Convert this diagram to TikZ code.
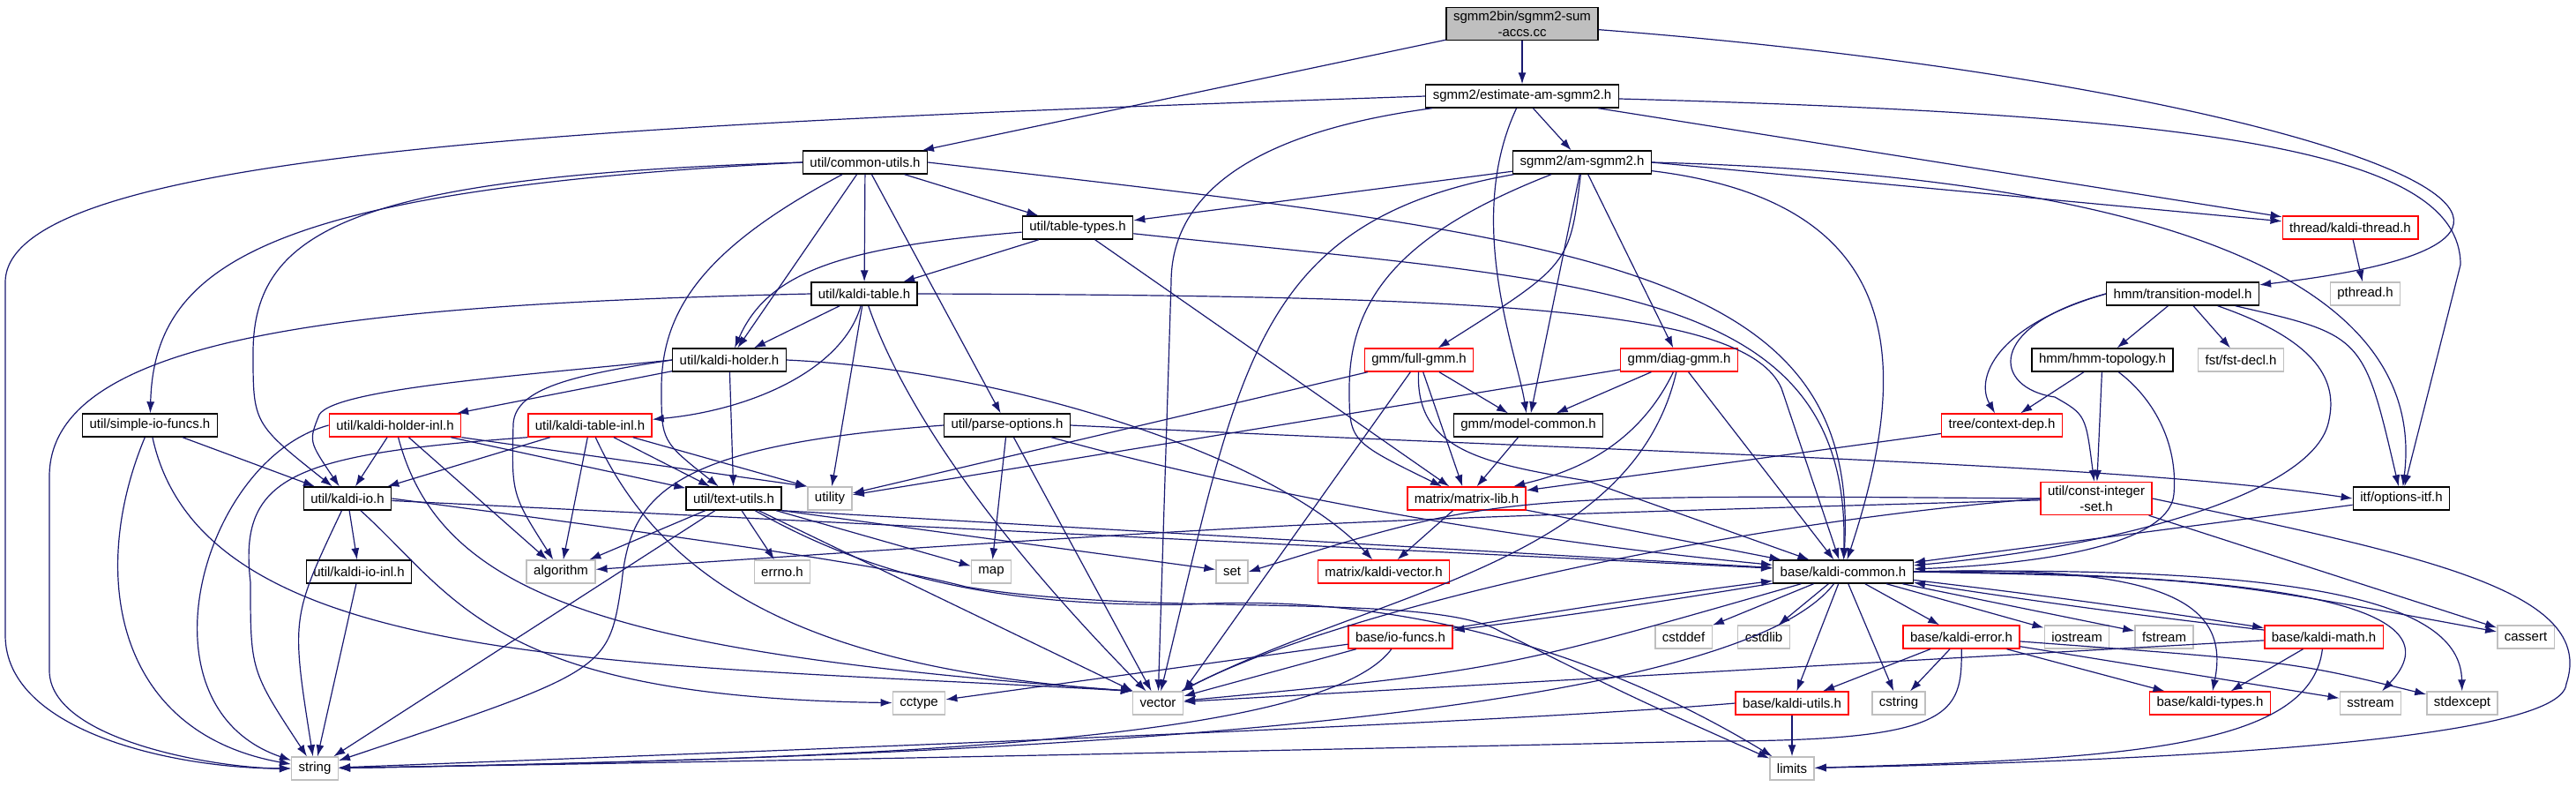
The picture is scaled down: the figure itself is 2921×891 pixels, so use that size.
\documentclass[tikz,border=0pt]{standalone}
\usepackage{fontspec}
\setmainfont{Liberation Sans}
\usetikzlibrary{arrows.meta}
\definecolor{edgeblue}{RGB}{25,25,112}
\definecolor{sysgray}{RGB}{191,191,191}

\begin{document}
\begin{tikzpicture}[
    x=0.5pt, y=-0.5pt,
    hdr/.style={rectangle, draw=black, fill=white, line width=0.7pt, font=\fontsize{7.5}{9}\selectfont, inner xsep=4pt, inner ysep=2pt, minimum height=13pt},
    trunc/.style={hdr, draw=red},
    sysinc/.style={hdr, draw=sysgray},
    rootfile/.style={hdr, fill=sysgray, align=center},
    arrow/.style={-{Latex[length=6.5pt,width=4.5pt]}, edgeblue, line width=0.6pt}
]
    \useasboundingbox (0,0) rectangle (2921,891);

    \node[rootfile] (src) at (1726,27) {sgmm2bin/sgmm2-sum\\-accs.cc};
    \node[hdr] (estam) at (1726,109) {sgmm2/estimate-am-sgmm2.h};
    \node[hdr] (common) at (981,184) {util/common-utils.h};
    \node[hdr] (amsgmm) at (1794,184) {sgmm2/am-sgmm2.h};
    \node[hdr] (tabletypes) at (1222,258) {util/table-types.h};
    \node[trunc] (thread) at (2665,258) {thread/kaldi-thread.h};
    \node[hdr] (kalditable) at (980,333) {util/kaldi-table.h};
    \node[hdr] (transmodel) at (2475,333) {hmm/transition-model.h};
    \node[sysinc] (pthread) at (2682,333) {pthread.h};
    \node[hdr] (holder) at (827,408) {util/kaldi-holder.h};
    \node[trunc] (fullgmm) at (1609,408) {gmm/full-gmm.h};
    \node[trunc] (diaggmm) at (1904,408) {gmm/diag-gmm.h};
    \node[hdr] (hmmtopo) at (2384,408) {hmm/hmm-topology.h};
    \node[sysinc] (fstdecl) at (2541,408) {fst/fst-decl.h};
    \node[hdr] (simpleio) at (170,482) {util/simple-io-funcs.h};
    \node[trunc] (holderinl) at (448,482) {util/kaldi-holder-inl.h};
    \node[trunc] (tableinl) at (669,482) {util/kaldi-table-inl.h};
    \node[hdr] (parseopt) at (1142,482) {util/parse-options.h};
    \node[hdr] (modelcommon) at (1733,482) {gmm/model-common.h};
    \node[trunc] (contextdep) at (2270,482) {tree/context-dep.h};
    \node[hdr] (kaldiio) at (394,565) {util/kaldi-io.h};
    \node[hdr] (textutils) at (832,565) {util/text-utils.h};
    \node[sysinc] (utility) at (941,565) {utility};
    \node[trunc] (matrixlib) at (1663,565) {matrix/matrix-lib.h};
    \node[trunc, align=center] (constint) at (2377,565) {util/const-integer\\-set.h};
    \node[hdr] (optionsitf) at (2723,565) {itf/options-itf.h};
    \node[hdr] (kaldiioinl) at (407,648) {util/kaldi-io-inl.h};
    \node[sysinc] (algorithm) at (636,648) {algorithm};
    \node[sysinc] (errno) at (887,648) {errno.h};
    \node[sysinc] (map) at (1124,648) {map};
    \node[sysinc] (set) at (1397,648) {set};
    \node[trunc] (kaldivector) at (1569,648) {matrix/kaldi-vector.h};
    \node[hdr] (kaldicommon) at (2090,648) {base/kaldi-common.h};
    \node[trunc] (iofuncs) at (1588,722) {base/io-funcs.h};
    \node[sysinc] (cstddef) at (1909,722) {cstddef};
    \node[sysinc] (cstdlib) at (2000,722) {cstdlib};
    \node[trunc] (kaldierror) at (2224,722) {base/kaldi-error.h};
    \node[sysinc] (iostream) at (2355,722) {iostream};
    \node[sysinc] (fstream) at (2454,722) {fstream};
    \node[trunc] (kaldimath) at (2635,722) {base/kaldi-math.h};
    \node[sysinc] (cassert) at (2864,722) {cassert};
    \node[sysinc] (cctype) at (1042,797) {cctype};
    \node[sysinc] (vector) at (1313,797) {vector};
    \node[trunc] (kaldiutils) at (2032,797) {base/kaldi-utils.h};
    \node[sysinc] (cstring) at (2153,797) {cstring};
    \node[trunc] (kalditypes) at (2506,797) {base/kaldi-types.h};
    \node[sysinc] (sstream) at (2688,797) {sstream};
    \node[sysinc] (stdexcept) at (2792,797) {stdexcept};
    \node[sysinc] (string) at (357,871) {string};
    \node[sysinc] (limits) at (2032,871) {limits};

    \draw[arrow] (src) -- (common);
    \draw[arrow] (src) -- (estam);
    \draw[arrow] (src) .. controls (2550,90) and (3100,260) .. (transmodel);

    \draw[arrow] (estam.west) .. controls (700,140) and (6,170) .. (6,320) -- (6,720) .. controls (6,830) and (200,871) .. (string.west);
    \draw[arrow] (estam) .. controls (1420,150) and (1328,220) .. (1328,320) -- (vector);
    \draw[arrow] (estam) -- (amsgmm);
    \draw[arrow] (estam) .. controls (1660,250) and (1720,400) .. (modelcommon);
    \draw[arrow] (estam) .. controls (2500,130) and (2790,170) .. (2790,300) -- (optionsitf);
    \draw[arrow] (estam) -- (thread);

    \draw[arrow] (amsgmm) -- (tabletypes);
    \draw[arrow] (amsgmm) .. controls (1420,250) and (1405,420) .. (vector);
    \draw[arrow] (amsgmm) .. controls (1600,260) and (1530,330) .. (1530,440) .. controls (1530,500) .. (matrixlib);
    \draw[arrow] (amsgmm) .. controls (1780,300) .. (fullgmm);
    \draw[arrow] (amsgmm) -- (modelcommon);
    \draw[arrow] (amsgmm) -- (diaggmm);
    \draw[arrow] (amsgmm) .. controls (2170,230) and (2165,420) .. (kaldicommon);
    \draw[arrow] (amsgmm.east) .. controls (2300,195) and (2760,270) .. (optionsitf);
    \draw[arrow] (amsgmm.east) -- (thread);

    \draw[arrow] (common) -- (parseopt);
    \draw[arrow] (common.west) .. controls (400,200) and (287,260) .. (287,400) .. controls (287,480) .. (kaldiio);
    \draw[arrow] (common.west) .. controls (300,215) and (175,300) .. (simpleio);
    \draw[arrow] (common) -- (holder);
    \draw[arrow] (common) -- (kalditable);
    \draw[arrow] (common) -- (tabletypes);
    \draw[arrow] (common) .. controls (800,280) and (750,350) .. (750,440) .. controls (750,500) .. (textutils);
    \draw[arrow] (common.east) .. controls (1800,270) and (2110,300) .. (kaldicommon);

    \draw[arrow] (tabletypes) -- (kalditable);
    \draw[arrow] (tabletypes) .. controls (950,280) and (870,310) .. (holder);
    \draw[arrow] (tabletypes) -- (matrixlib);
    \draw[arrow] (tabletypes) .. controls (1800,320) and (2100,320) .. (kaldicommon);

    \draw[arrow] (kalditable) -- (holder);
    \draw[arrow] (kalditable) .. controls (955,420) and (850,465) .. (tableinl);
    \draw[arrow] (kalditable) -- (utility);
    \draw[arrow] (kalditable) .. controls (1010,420) and (1080,560) .. (vector);
    \draw[arrow] (kalditable.east) .. controls (1700,335) and (1980,350) .. (2020,440) -- (kaldicommon);
    \draw[arrow] (kalditable.west) .. controls (400,345) and (56,380) .. (56,540) -- (56,760) .. controls (56,840) and (250,871) .. (string.west);

    \draw[arrow] (holder) -- (holderinl);
    \draw[arrow] (holder.west) .. controls (600,425) and (380,440) .. (362,470) .. controls (350,500) .. (kaldiio);
    \draw[arrow] (holder.west) .. controls (650,425) and (585,440) .. (582,480) .. controls (580,560) .. (algorithm);
    \draw[arrow] (holder) -- (textutils);
    \draw[arrow] (holder.east) .. controls (1150,420) and (1450,520) .. (kaldivector);

    \draw[arrow] (holderinl) -- (kaldiio);
    \draw[arrow] (holderinl) -- (textutils);
    \draw[arrow] (holderinl.south east) -- (utility.north west);
    \draw[arrow] (holderinl) -- (algorithm);
    \draw[arrow] (holderinl.west) .. controls (230,520) and (150,800) .. (string);
    \draw[arrow] (holderinl) .. controls (500,680) and (700,740) .. (vector.north west);

    \draw[arrow] (tableinl.south west) .. controls (330,515) and (270,540) .. (284,660) .. controls (284,760) .. (string);
    \draw[arrow] (tableinl) -- (kaldiio);
    \draw[arrow] (tableinl) -- (algorithm);
    \draw[arrow] (tableinl) .. controls (760,680) and (950,760) .. (vector.north west);
    \draw[arrow] (tableinl) -- (textutils);
    \draw[arrow] (tableinl) -- (utility.north west);

    \draw[arrow] (simpleio) -- (kaldiio);
    \draw[arrow] (simpleio) .. controls (100,650) and (130,830) .. (string);
    \draw[arrow] (simpleio) .. controls (230,760) and (700,750) .. (vector.north west);

    \draw[arrow] (kaldiio) -- (kaldiioinl);
    \draw[arrow] (kaldiio) .. controls (330,700) .. (string);
    \draw[arrow] (kaldiio) -- (kaldicommon);
    \draw[arrow] (kaldiio.east) .. controls (800,612) and (1000,640) .. (1095,665) .. controls (1300,700) and (1620,670) .. (1700,715) .. controls (1850,790) .. (limits);
    \draw[arrow] (kaldiio) .. controls (520,680) and (560,790) .. (cctype);
    \draw[arrow] (kaldiioinl) -- (string);

    \draw[arrow] (textutils) -- (algorithm);
    \draw[arrow] (textutils) -- (string);
    \draw[arrow] (textutils) -- (errno);
    \draw[arrow] (textutils) -- (map);
    \draw[arrow] (textutils.south east) -- (set);
    \draw[arrow] (textutils) -- (vector);
    \draw[arrow] (textutils.south east) -- (kaldicommon);
    \draw[arrow] (textutils) .. controls (1000,660) and (1150,688) .. (1350,685) .. controls (1620,670) and (1850,760) .. (limits);

    \draw[arrow] (parseopt) -- (map);
    \draw[arrow] (parseopt) -- (vector);
    \draw[arrow] (parseopt.west) .. controls (760,505) and (715,560) .. (705,660) .. controls (690,760) .. (string);
    \draw[arrow] (parseopt) .. controls (1500,580) and (1800,620) .. (kaldicommon);
    \draw[arrow] (parseopt.east) .. controls (1900,515) and (2400,525) .. (optionsitf.west);

    \draw[arrow] (fullgmm) -- (utility);
    \draw[arrow] (fullgmm) -- (vector.north east);
    \draw[arrow] (fullgmm) -- (matrixlib);
    \draw[arrow] (fullgmm) -- (modelcommon);
    \draw[arrow] (fullgmm) .. controls (1605,510) and (1680,525) .. (1800,545) -- (kaldicommon);
    \draw[arrow] (diaggmm) -- (utility);
    \draw[arrow] (diaggmm) -- (modelcommon);
    \draw[arrow] (diaggmm) .. controls (1850,520) and (1760,540) .. (matrixlib);
    \draw[arrow] (diaggmm) .. controls (1850,640) and (1560,670) .. (vector);
    \draw[arrow] (diaggmm) -- (kaldicommon);
    \draw[arrow] (modelcommon) -- (matrixlib);
    \draw[arrow] (matrixlib) -- (kaldivector);
    \draw[arrow] (matrixlib) -- (kaldicommon);
    \draw[arrow] (contextdep) -- (matrixlib);

    \draw[arrow] (transmodel) -- (hmmtopo);
    \draw[arrow] (transmodel) -- (fstdecl);
    \draw[arrow] (transmodel.west) .. controls (2260,370) and (2240,430) .. (contextdep);
    \draw[arrow] (transmodel.west) .. controls (2250,370) and (2260,440) .. (2330,450) .. controls (2365,470) .. (constint);
    \draw[arrow] (transmodel) .. controls (2640,390) and (2650,440) .. (2640,480) .. controls (2620,560) and (2400,620) .. (kaldicommon);
    \draw[arrow] (transmodel) .. controls (2680,380) .. (optionsitf);
    \draw[arrow] (hmmtopo) -- (contextdep);
    \draw[arrow] (hmmtopo) -- (constint);
    \draw[arrow] (hmmtopo) .. controls (2440,450) and (2470,500) .. (2465,560) .. controls (2460,620) and (2300,640) .. (kaldicommon);
    \draw[arrow] (thread) -- (pthread);

    \draw[arrow] (constint.west) .. controls (1700,560) .. (set.east);
    \draw[arrow] (constint) .. controls (1500,590) .. (algorithm);
    \draw[arrow] (constint.west) .. controls (1900,600) and (1500,700) .. (vector);
    \draw[arrow] (constint.east) .. controls (2750,630) and (2945,670) .. (2910,775) .. controls (2905,850) and (2300,865) .. (limits);
    \draw[arrow] (constint) -- (cassert);
    \draw[arrow] (optionsitf) -- (kaldicommon);

    \draw[arrow] (kaldicommon) -- (cstddef);
    \draw[arrow] (kaldicommon) -- (cstdlib);
    \draw[arrow] (kaldicommon) -- (kaldierror);
    \draw[arrow] (kaldicommon) -- (iostream);
    \draw[arrow] (kaldicommon) -- (fstream);
    \draw[arrow] (kaldicommon) to[bend left=1] (kaldimath);
    \draw[arrow] (kaldimath) to[bend left=1] (kaldicommon);
    \draw[arrow] (kaldicommon.east) .. controls (2500,655) .. (cassert);
    \draw[arrow] (kaldicommon.east) .. controls (2450,640) and (2530,680) .. (kalditypes);
    \draw[arrow] (kaldicommon.east) .. controls (2600,650) and (2790,690) .. (sstream);
    \draw[arrow] (kaldicommon.east) .. controls (2650,640) and (2790,690) .. (stdexcept);
    \draw[arrow] (kaldicommon) -- (kaldiutils);
    \draw[arrow] (kaldicommon) -- (cstring);
    \draw[arrow] (kaldicommon) .. controls (1950,830) and (1000,860) .. (string);
    \draw[arrow] (kaldicommon) .. controls (1700,760) .. (vector);
    \draw[arrow] (kaldicommon) to[bend left=1] (iofuncs);
    \draw[arrow] (iofuncs) to[bend left=1] (kaldicommon);

    \draw[arrow] (iofuncs) -- (cctype);
    \draw[arrow] (iofuncs) -- (vector);
    \draw[arrow] (iofuncs) .. controls (1500,840) and (1000,860) .. (string);
    \draw[arrow] (kaldierror) -- (kaldiutils);
    \draw[arrow] (kaldierror) -- (cstring);
    \draw[arrow] (kaldierror) .. controls (2225,810) and (2215,840) .. (1940,840) .. controls (1000,860) .. (string);
    \draw[arrow] (kaldierror) -- (kalditypes);
    \draw[arrow] (kaldierror) -- (sstream);
    \draw[arrow] (kaldierror) .. controls (2600,750) .. (stdexcept);
    \draw[arrow] (kaldimath) -- (vector);
    \draw[arrow] (kaldimath) -- (kalditypes);
    \draw[arrow] (kaldimath) .. controls (2620,850) and (2400,860) .. (limits);
    \draw[arrow] (kaldiutils.west) .. controls (1700,820) and (900,850) .. (string);
    \draw[arrow] (kaldiutils) -- (limits);
\end{tikzpicture}
\end{document}
